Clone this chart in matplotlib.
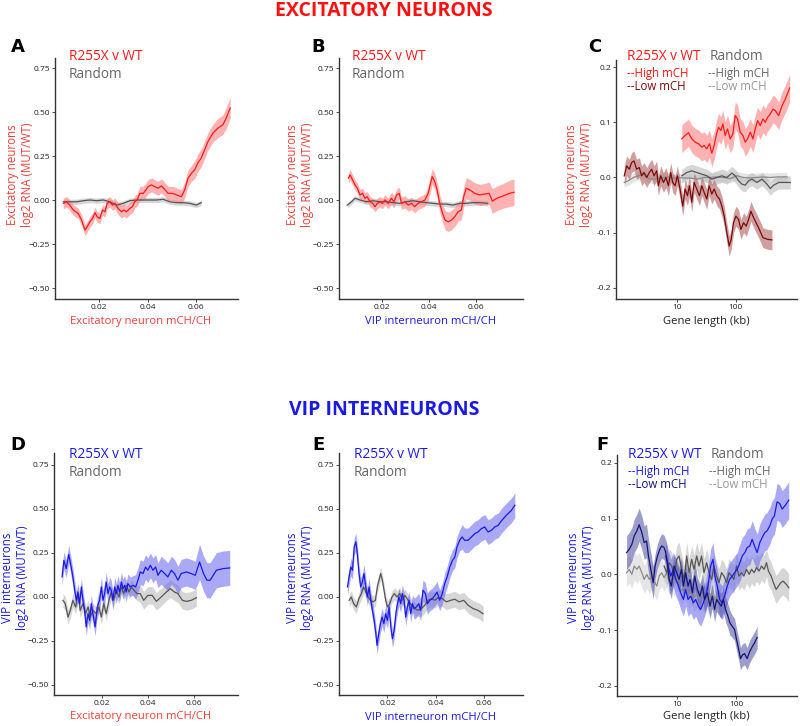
import matplotlib
matplotlib.use("Agg")
import matplotlib.pyplot as plt
import numpy as np

# ---------------- DATA ----------------
# Panel A: excitatory RNA vs excitatory mCH
A_red_x = [0.0054,0.0068,0.0081,0.0095,0.0115,0.0129,0.0143,0.0152,0.0163,0.0174,0.0184,0.0193,0.0204,0.0215,0.0225,0.0234,0.0245,0.0256,0.0266,0.0279,0.0293,0.0302,0.0313,0.0327,0.0338,0.0347,0.0357,0.0368,0.0382,0.0393,0.0402,0.0416,0.0429,0.0443,0.0457,0.0470,0.0484,0.0498,0.0511,0.0525,0.0539,0.0552,0.0566,0.0580,0.0593,0.0607,0.0620,0.0634,0.0648,0.0668,0.0689,0.0709,0.0723,0.0739]
A_red_y = [-0.019,-0.010,-0.030,-0.057,-0.076,-0.114,-0.171,-0.152,-0.124,-0.105,-0.072,-0.095,-0.105,-0.057,-0.067,-0.019,-0.010,-0.029,-0.019,-0.048,-0.067,-0.057,-0.067,-0.048,-0.038,-0.010,0.000,0.038,0.038,0.057,0.076,0.086,0.076,0.067,0.080,0.061,0.038,0.038,0.034,0.025,0.019,0.057,0.124,0.152,0.171,0.213,0.238,0.285,0.333,0.380,0.409,0.428,0.466,0.523]
A_red_se = [0.03,0.03,0.03,0.03,0.03,0.03,0.03,0.03,0.03,0.03,0.03,0.03,0.03,0.03,0.03,0.03,0.03,0.03,0.03,0.035,0.035,0.035,0.035,0.035,0.035,0.035,0.035,0.04,0.04,0.04,0.04,0.04,0.04,0.04,0.04,0.04,0.04,0.04,0.04,0.04,0.04,0.045,0.045,0.045,0.05,0.05,0.05,0.05,0.05,0.05,0.055,0.055,0.06,0.06]
A_gray_x = [0.0054,0.0081,0.0109,0.0136,0.0163,0.0190,0.0218,0.0245,0.0272,0.0300,0.0327,0.0354,0.0382,0.0409,0.0436,0.0464,0.0491,0.0518,0.0546,0.0573,0.0600,0.0620]
A_gray_y = [-0.010,-0.010,-0.010,-0.004,0.000,-0.004,0.000,-0.010,-0.029,-0.019,-0.004,0.000,0.000,0.000,0.000,0.004,-0.010,-0.015,-0.015,-0.019,-0.029,-0.015]
A_gray_se = [0.015]*22

# Panel B: excitatory RNA vs VIP mCH
B_red_x = [0.0059,0.0066,0.0077,0.0087,0.0097,0.0108,0.0119,0.0129,0.0139,0.0151,0.0162,0.0172,0.0182,0.0193,0.0204,0.0214,0.0228,0.0242,0.0252,0.0264,0.0275,0.0285,0.0299,0.0313,0.0327,0.0341,0.0355,0.0370,0.0384,0.0398,0.0408,0.0415,0.0426,0.0436,0.0447,0.0459,0.0470,0.0483,0.0497,0.0511,0.0525,0.0539,0.0549,0.0560,0.0575,0.0596,0.0617,0.0638,0.0657,0.0671,0.0690,0.0716,0.0744,0.0763]
B_red_y = [0.124,0.143,0.114,0.086,0.067,0.029,0.038,0.010,0.019,-0.010,-0.019,-0.038,-0.019,-0.010,-0.019,0.000,-0.019,0.010,-0.010,0.029,0.038,-0.019,-0.010,-0.029,-0.019,-0.038,-0.019,-0.010,0.000,0.038,0.095,0.133,0.105,0.057,-0.019,-0.076,-0.114,-0.124,-0.114,-0.095,-0.067,-0.057,0.019,0.067,0.057,0.038,0.029,0.034,0.038,-0.006,0.010,0.023,0.038,0.044]
B_red_se = [0.03,0.03,0.03,0.03,0.03,0.03,0.03,0.03,0.03,0.03,0.03,0.03,0.03,0.03,0.03,0.03,0.03,0.035,0.035,0.035,0.035,0.035,0.035,0.035,0.035,0.035,0.035,0.035,0.035,0.04,0.045,0.045,0.045,0.045,0.05,0.05,0.055,0.055,0.055,0.055,0.055,0.055,0.055,0.06,0.06,0.06,0.06,0.06,0.065,0.07,0.07,0.07,0.075,0.075]
B_gray_x = [0.0054,0.0072,0.0087,0.0108,0.0136,0.0164,0.0193,0.0221,0.0249,0.0277,0.0306,0.0334,0.0362,0.0390,0.0419,0.0447,0.0475,0.0503,0.0532,0.0560,0.0588,0.0616,0.0651]
B_gray_y = [-0.029,-0.010,0.010,0.000,-0.010,-0.004,-0.010,-0.010,-0.015,-0.019,-0.010,-0.004,-0.010,-0.015,-0.019,-0.023,-0.023,-0.029,-0.019,-0.019,-0.015,-0.015,-0.019]
B_gray_se = [0.015]*23

# Panel C: excitatory RNA vs gene length (kb), log10 of kb
C_high_logx = [1.085,1.141,1.198,1.254,1.311,1.367,1.424,1.463,1.508,1.554,1.593,1.633,1.667,1.706,1.746,1.780,1.819,1.859,1.904,1.949,1.989,2.028,2.073,2.119,2.158,2.198,2.243,2.288,2.328,2.367,2.412,2.458,2.497,2.537,2.582,2.627,2.667,2.723,2.780,2.836,2.910]
C_high_y = [0.070,0.076,0.081,0.070,0.064,0.061,0.055,0.058,0.052,0.061,0.044,0.058,0.076,0.091,0.085,0.097,0.076,0.088,0.070,0.079,0.112,0.106,0.082,0.076,0.064,0.070,0.082,0.070,0.088,0.103,0.094,0.106,0.100,0.109,0.115,0.124,0.121,0.112,0.130,0.142,0.162]
C_high_se = [0.025]*41
C_low_logx = [0.113,0.153,0.198,0.237,0.277,0.322,0.367,0.407,0.446,0.492,0.537,0.576,0.616,0.661,0.689,0.729,0.774,0.819,0.859,0.898,0.932,0.972,1.011,1.056,1.102,1.141,1.181,1.215,1.254,1.294,1.339,1.384,1.424,1.463,1.508,1.548,1.593,1.633,1.678,1.723,1.763,1.802,1.847,1.887,1.921,1.960,2.000,2.045,2.085,2.130,2.175,2.215,2.254,2.288,2.328,2.384,2.458,2.537,2.610]
C_low_y = [0.003,0.021,0.015,0.027,0.030,0.015,0.018,0.003,0.009,0.000,0.009,0.015,0.003,0.012,-0.015,0.003,-0.009,0.000,-0.015,0.009,-0.009,-0.015,0.003,-0.021,-0.052,-0.021,-0.033,-0.015,-0.045,-0.009,-0.021,-0.033,-0.015,-0.027,-0.039,-0.015,-0.030,-0.021,-0.033,-0.039,-0.052,-0.070,-0.100,-0.124,-0.112,-0.082,-0.070,-0.076,-0.094,-0.082,-0.088,-0.076,-0.061,-0.070,-0.079,-0.091,-0.109,-0.112,-0.113]
C_low_se = [0.018]*59
C_rhigh_logx = [1.085,1.169,1.254,1.339,1.424,1.508,1.593,1.678,1.763,1.847,1.932,1.989,2.045,2.102,2.158,2.215,2.271,2.356,2.441,2.525,2.582,2.638,2.723,2.808,2.921]
C_rhigh_y = [0.003,0.009,0.012,0.009,0.006,0.003,-0.003,0.000,0.003,0.000,0.008,0.003,-0.006,-0.012,-0.014,-0.006,-0.003,-0.009,-0.003,-0.012,-0.020,-0.014,-0.009,-0.009,-0.009]
C_rhigh_se = [0.012]*25
C_rlow_logx = [0.113,0.181,0.266,0.350,0.435,0.520,0.605,0.689,0.774,0.859,0.944,1.028,1.113,1.226,1.339,1.452,1.565,1.678,1.791,1.904,2.017,2.130,2.243,2.356,2.469,2.582,2.695,2.864]
C_rlow_y = [-0.009,-0.006,0.000,0.003,0.006,-0.002,-0.003,-0.002,0.000,0.001,-0.002,0.000,-0.001,-0.001,-0.003,0.000,0.000,0.001,0.000,-0.002,0.003,0.000,-0.001,0.000,0.001,0.000,0.001,0.001]
C_rlow_se = [0.008]*28

# Panel D: VIP RNA vs excitatory mCH
D_blue_x = [0.0028,0.0036,0.0046,0.0057,0.0065,0.0075,0.0083,0.0090,0.0097,0.0104,0.0112,0.0119,0.0126,0.0133,0.0141,0.0148,0.0155,0.0162,0.0172,0.0181,0.0191,0.0199,0.0206,0.0213,0.0220,0.0228,0.0235,0.0242,0.0249,0.0257,0.0264,0.0271,0.0278,0.0286,0.0293,0.0300,0.0307,0.0314,0.0325,0.0336,0.0348,0.0358,0.0368,0.0380,0.0391,0.0401,0.0412,0.0423,0.0435,0.0445,0.0459,0.0474,0.0488,0.0503,0.0517,0.0532,0.0546,0.0568,0.0590,0.0607,0.0626,0.0643,0.0658,0.0672,0.0699,0.0728,0.0757]
D_blue_y = [0.114,0.208,0.161,0.242,0.189,0.114,0.038,-0.019,0.028,-0.038,0.057,-0.019,-0.076,-0.170,-0.095,-0.133,-0.038,-0.095,-0.170,-0.057,-0.019,0.057,-0.019,0.019,0.085,0.019,0.057,0.038,-0.019,0.057,0.019,0.066,0.028,0.085,0.047,0.066,0.028,0.076,0.057,0.066,0.057,0.095,0.142,0.133,0.170,0.152,0.180,0.152,0.170,0.123,0.152,0.133,0.114,0.152,0.133,0.095,0.133,0.142,0.133,0.123,0.199,0.133,0.095,0.095,0.152,0.161,0.165]
D_blue_se = [0.05]*20 + [0.055]*20 + [0.07]*10 + [0.08]*10 + [0.1]*7
D_gray_x = [0.0032,0.0042,0.0054,0.0064,0.0075,0.0087,0.0097,0.0107,0.0119,0.0130,0.0141,0.0151,0.0162,0.0177,0.0188,0.0199,0.0209,0.0220,0.0232,0.0242,0.0252,0.0264,0.0275,0.0286,0.0296,0.0307,0.0319,0.0329,0.0341,0.0354,0.0368,0.0383,0.0401,0.0420,0.0438,0.0459,0.0481,0.0499,0.0517,0.0532,0.0551,0.0568,0.0590,0.0612]
D_gray_y = [-0.019,-0.038,-0.114,-0.076,-0.019,-0.057,0.019,-0.076,-0.038,-0.095,-0.057,-0.114,-0.076,-0.095,-0.057,-0.114,-0.038,-0.095,-0.019,0.028,-0.019,0.038,0.000,0.057,0.019,0.066,0.028,0.057,0.038,0.019,0.019,-0.019,0.009,0.009,-0.025,0.000,0.028,0.047,0.028,0.019,-0.019,-0.025,-0.019,-0.004]
D_gray_se = [0.04]*30 + [0.05]*14

# Panel E: VIP RNA vs VIP mCH
E_blue_x = [0.0034,0.0041,0.0048,0.0055,0.0062,0.0069,0.0075,0.0082,0.0089,0.0096,0.0103,0.0110,0.0117,0.0124,0.0131,0.0138,0.0145,0.0152,0.0157,0.0164,0.0171,0.0178,0.0185,0.0193,0.0200,0.0207,0.0214,0.0221,0.0228,0.0235,0.0242,0.0248,0.0255,0.0262,0.0269,0.0276,0.0283,0.0290,0.0297,0.0304,0.0311,0.0320,0.0330,0.0338,0.0348,0.0358,0.0366,0.0376,0.0387,0.0397,0.0406,0.0417,0.0428,0.0438,0.0448,0.0459,0.0470,0.0480,0.0489,0.0500,0.0510,0.0521,0.0535,0.0549,0.0563,0.0576,0.0590,0.0604,0.0618,0.0632,0.0646,0.0660,0.0673,0.0694,0.0715,0.0729]
E_blue_y = [0.057,0.114,0.170,0.152,0.284,0.313,0.246,0.133,0.057,0.085,0.133,0.057,0.000,0.057,-0.019,-0.076,-0.133,-0.208,-0.275,-0.208,-0.152,-0.114,-0.152,-0.095,-0.133,-0.057,-0.170,-0.237,-0.189,-0.095,-0.038,0.000,-0.038,0.019,-0.019,-0.114,-0.057,-0.019,-0.095,-0.038,-0.066,-0.057,-0.038,-0.076,0.038,0.019,-0.038,-0.019,-0.009,0.009,0.028,-0.019,0.019,0.076,0.114,0.170,0.208,0.227,0.284,0.322,0.341,0.322,0.322,0.341,0.360,0.369,0.388,0.398,0.369,0.379,0.398,0.407,0.432,0.464,0.492,0.521]
E_blue_se = [0.05]*40 + [0.06]*20 + [0.07]*16
E_gray_x = [0.0041,0.0050,0.0060,0.0071,0.0082,0.0092,0.0102,0.0110,0.0120,0.0129,0.0140,0.0150,0.0158,0.0165,0.0172,0.0179,0.0186,0.0193,0.0200,0.0210,0.0219,0.0229,0.0240,0.0251,0.0262,0.0273,0.0286,0.0300,0.0313,0.0327,0.0341,0.0355,0.0369,0.0383,0.0397,0.0410,0.0428,0.0445,0.0462,0.0480,0.0498,0.0517,0.0535,0.0556,0.0576,0.0597]
E_gray_y = [-0.019,0.000,-0.038,-0.057,-0.009,0.019,0.057,0.028,0.000,-0.019,-0.028,-0.019,0.057,0.095,0.133,0.095,0.038,-0.019,-0.057,-0.038,0.000,0.019,0.000,0.019,-0.019,0.009,-0.019,-0.047,-0.066,-0.076,-0.066,-0.047,-0.019,-0.009,-0.019,-0.004,-0.009,-0.028,-0.019,-0.013,-0.028,-0.019,-0.047,-0.066,-0.076,-0.095]
E_gray_se = [0.035]*30 + [0.045]*16

# Panel F: VIP RNA vs gene length (kb), log10 of kb
F_low_logx = [0.136,0.181,0.226,0.266,0.311,0.350,0.395,0.435,0.475,0.508,0.548,0.588,0.621,0.661,0.701,0.734,0.774,0.802,0.831,0.859,0.898,0.944,0.989,1.028,1.068,1.102,1.141,1.181,1.215,1.254,1.294,1.339,1.384,1.424,1.463,1.508,1.554,1.593,1.633,1.667,1.706,1.746,1.780,1.819,1.859,1.893,1.932,1.972,2.006,2.045,2.073,2.102,2.141,2.186,2.226,2.271,2.311,2.356]
F_low_y = [0.039,0.045,0.054,0.069,0.078,0.089,0.075,0.057,0.060,0.033,0.009,-0.015,0.015,0.033,0.045,0.051,0.048,0.039,0.021,-0.009,-0.021,0.015,0.003,-0.009,0.009,-0.021,0.003,-0.021,-0.009,-0.033,-0.003,-0.027,-0.039,-0.021,-0.045,-0.033,-0.057,-0.039,-0.063,-0.045,-0.051,-0.057,-0.045,-0.063,-0.075,-0.087,-0.093,-0.099,-0.117,-0.136,-0.151,-0.145,-0.142,-0.151,-0.139,-0.130,-0.123,-0.113]
F_low_se = [0.03]*12 + [0.022]*34 + [0.02]*12
F_high_logx = [0.802,0.842,0.887,0.932,0.972,1.011,1.056,1.102,1.141,1.181,1.226,1.271,1.311,1.356,1.395,1.441,1.480,1.520,1.565,1.605,1.638,1.678,1.718,1.763,1.802,1.847,1.887,1.932,1.972,2.017,2.062,2.102,2.147,2.186,2.232,2.271,2.311,2.356,2.401,2.441,2.486,2.525,2.571,2.610,2.650,2.695,2.740,2.780,2.836,2.893]
F_high_y = [0.033,0.015,-0.003,0.009,-0.009,-0.018,-0.033,-0.045,-0.027,-0.045,-0.039,-0.051,-0.045,-0.057,-0.063,-0.051,-0.039,-0.021,0.015,0.027,-0.003,-0.021,-0.045,-0.051,-0.039,-0.021,-0.009,-0.003,0.003,0.009,0.021,0.033,0.039,0.048,0.051,0.063,0.051,0.039,0.057,0.066,0.075,0.078,0.087,0.099,0.105,0.130,0.127,0.117,0.124,0.133]
F_high_se = [0.03]*30 + [0.033]*20
F_rlow_logx = [0.136,0.181,0.226,0.266,0.311,0.350,0.395,0.435,0.480,0.520,0.565,0.605,0.650,0.689,0.734,0.774,0.819,0.859,0.904,0.944,0.989,1.028,1.073,1.113,1.158,1.198,1.243,1.282,1.328,1.367,1.412,1.452,1.497,1.537,1.582,1.621,1.667,1.706,1.751]
F_rlow_y = [0.003,0.009,0.000,0.015,0.009,0.015,0.003,-0.009,0.000,-0.009,-0.003,-0.012,-0.021,-0.003,0.003,-0.006,0.003,-0.012,-0.003,-0.015,-0.003,-0.021,-0.030,-0.021,-0.025,-0.038,-0.030,-0.042,-0.035,-0.042,-0.036,-0.045,-0.038,-0.048,-0.033,-0.045,-0.040,-0.048,-0.042]
F_rlow_se = [0.025]*39
F_rhigh_logx = [0.774,0.819,0.859,0.904,0.944,0.989,1.028,1.073,1.113,1.158,1.198,1.243,1.282,1.328,1.367,1.412,1.452,1.497,1.537,1.582,1.621,1.667,1.706,1.751,1.791,1.836,1.876,1.921,1.960,2.006,2.045,2.090,2.130,2.175,2.220,2.260,2.305,2.345,2.390,2.429,2.475,2.514,2.548,2.593,2.633,2.678,2.718,2.757,2.797,2.853,2.893]
F_rhigh_y = [0.015,0.003,0.021,0.015,-0.003,0.027,0.033,0.009,-0.009,0.033,0.003,0.027,0.009,0.033,0.015,0.033,0.003,0.021,0.003,-0.009,0.015,-0.003,-0.015,0.003,-0.003,-0.015,0.003,-0.003,-0.009,0.015,-0.003,0.003,-0.003,0.009,0.000,0.009,0.003,0.012,0.006,0.015,0.009,0.021,0.006,-0.003,-0.015,-0.027,-0.021,-0.015,-0.012,-0.018,-0.024]
F_rhigh_se = [0.025]*51

Y_TICKS_A = [-0.50, -0.25, 0.00, 0.25, 0.50, 0.75]
Y_TICKS_C = [-0.2, -0.1, 0.0, 0.1, 0.2]
X_TICKS_MCH = [0.02, 0.04, 0.06]
X_TICKS_LEN = [10, 100]

# ---------------- STYLE ----------------
RED = "#ff1a1a"
RED_FILL = "#ff8080"
DRED = "#7a0a0a"
DRED_FILL = "#b06060"
BLUE = "#1a1ae6"
BLUE_FILL = "#7070f0"
NAVY = "#14147a"
NAVY_FILL = "#5c5ca8"
GRAY = "#555555"
GRAY_FILL = "#bbbbbb"
LGRAY = "#8a8a8a"
LGRAY_FILL = "#d5d5d5"
RED_LAB = "#e8413c"
FONT = "Open Sans"

plt.rcParams['font.family'] = [FONT, 'DejaVu Sans']

fig = plt.figure(figsize=(8.0, 7.26), dpi=100)
W, H = 800.0, 726.0

def make_ax(l, r, t, b):
    ax = fig.add_axes([l / W, 1 - b / H, (r - l) / W, (b - t) / H])
    for s in ("top", "right"):
        ax.spines[s].set_visible(False)
    for s in ("left", "bottom"):
        ax.spines[s].set_color("#333333")
        ax.spines[s].set_linewidth(1.0)
    ax.tick_params(axis="both", labelsize=6, length=2, width=0.6, color="#333333",
                   labelcolor="#222222", pad=1.5)
    ax.set_facecolor("white")
    return ax

def band(ax, x, y, se, lc, fc, alpha=0.6, lw=0.9):
    x = np.asarray(x); y = np.asarray(y); se = np.asarray(se)
    ax.fill_between(x, y - se, y + se, color=fc, alpha=alpha, lw=0)
    ax.plot(x, y, color=lc, lw=lw)

def mch_axes(ax, xlim):
    ax.set_xlim(*xlim)
    ax.set_ylim(-0.5625, 0.807)
    ax.set_xticks(X_TICKS_MCH)
    ax.set_xticklabels(["%.2f" % v for v in X_TICKS_MCH])
    ax.set_yticks(Y_TICKS_A)
    ax.set_yticklabels(["%.2f" % v if v >= 0 else "\u2212%.2f" % -v for v in Y_TICKS_A])

def len_axes(ax, ylim):
    ax.set_xscale("log")
    ax.set_xlim(0.94, 1080)
    ax.set_ylim(*ylim)
    ax.set_xticks(X_TICKS_LEN)
    ax.set_xticklabels([str(v) for v in X_TICKS_LEN])
    ax.minorticks_off()
    ax.set_yticks(Y_TICKS_C)
    ax.set_yticklabels(["%.1f" % v if v >= 0 else "-%.1f" % -v for v in Y_TICKS_C])

def ptext(x, y, s, **kw):
    fig.text(x / W, 1 - y / H, s, **kw)

def letter(x, y, s):
    ptext(x, y, s, fontsize=13, fontweight="bold", ha="center", va="center", color="black",
          family=["DejaVu Sans"])

ylab_exc = "Excitatory neurons\nlog2 RNA (MUT/WT)"
ylab_vip = "VIP interneurons\nlog2 RNA (MUT/WT)"

# ---- Panel A ----
axA = make_ax(55, 238, 58, 299)
band(axA, A_gray_x, A_gray_y, A_gray_se, GRAY, GRAY_FILL)
band(axA, A_red_x, A_red_y, A_red_se, RED, RED_FILL)
mch_axes(axA, (0.002, 0.0771))
# ---- Panel B ----
axB = make_ax(339, 523, 58, 299)
band(axB, B_gray_x, B_gray_y, B_gray_se, GRAY, GRAY_FILL)
band(axB, B_red_x, B_red_y, B_red_se, RED, RED_FILL)
mch_axes(axB, (0.0019, 0.0801))
# ---- Panel C ----
axC = make_ax(616, 797, 60, 299)
band(axC, 10 ** np.array(C_rlow_logx), C_rlow_y, C_rlow_se, LGRAY, LGRAY_FILL)
band(axC, 10 ** np.array(C_rhigh_logx), C_rhigh_y, C_rhigh_se, GRAY, GRAY_FILL)
band(axC, 10 ** np.array(C_low_logx), C_low_y, C_low_se, DRED, DRED_FILL)
band(axC, 10 ** np.array(C_high_logx), C_high_y, C_high_se, RED, RED_FILL)
len_axes(axC, (-0.22, 0.2127))
# ---- Panel D ----
axD = make_ax(54, 238, 453, 695)
band(axD, D_gray_x, D_gray_y, D_gray_se, GRAY, GRAY_FILL)
band(axD, D_blue_x, D_blue_y, D_blue_se, BLUE, BLUE_FILL)
mch_axes(axD, (-0.0007, 0.0793))
axD.set_ylim(-0.557, 0.818)
# ---- Panel E ----
axE = make_ax(339, 523, 453, 695)
band(axE, E_gray_x, E_gray_y, E_gray_se, GRAY, GRAY_FILL)
band(axE, E_blue_x, E_blue_y, E_blue_se, BLUE, BLUE_FILL)
mch_axes(axE, (-0.0001, 0.0763))
axE.set_ylim(-0.557, 0.818)
# ---- Panel F ----
axF = make_ax(617, 797, 455, 696)
band(axF, 10 ** np.array(F_rlow_logx), F_rlow_y, F_rlow_se, LGRAY, LGRAY_FILL)
band(axF, 10 ** np.array(F_rhigh_logx), F_rhigh_y, F_rhigh_se, GRAY, GRAY_FILL)
band(axF, 10 ** np.array(F_high_logx), F_high_y, F_high_se, BLUE, BLUE_FILL)
band(axF, 10 ** np.array(F_low_logx), F_low_y, F_low_se, NAVY, NAVY_FILL)
len_axes(axF, (-0.218, 0.214))

# ---- titles ----
ptext(384, 11, "EXCITATORY NEURONS", fontsize=14, fontweight="bold", color="#ff1010",
      ha="center", va="center")
ptext(384, 410, "VIP INTERNEURONS", fontsize=14, fontweight="bold", color="#1a1ae6",
      ha="center", va="center")

# ---- letters ----
for (x, y, s) in [(18, 47, "A"), (318, 47, "B"), (595, 47, "C"),
                  (18, 445, "D"), (318, 445, "E"), (602, 445, "F")]:
    letter(x, y, s)

# ---- y labels ----
for (x, y, s, c) in [(20, 175, ylab_exc, RED_LAB), (300, 175, ylab_exc, RED_LAB),
                     (579, 175, ylab_exc, RED_LAB),
                     (15, 578, ylab_vip, BLUE), (300, 578, ylab_vip, BLUE),
                     (581, 578, ylab_vip, BLUE)]:
    ptext(x, y, s, fontsize=8.3, color=c, rotation=90, ha="center", va="center",
          linespacing=1.25)

# ---- x labels ----
for (x, y, s, c) in [(141, 322, "Excitatory neuron mCH/CH", RED_LAB),
                     (431, 322, "VIP interneuron mCH/CH", BLUE),
                     (706, 322, "Gene length (kb)", "#222222"),
                     (141, 717, "Excitatory neuron mCH/CH", RED_LAB),
                     (431, 717, "VIP interneuron mCH/CH", BLUE),
                     (706, 717, "Gene length (kb)", "#222222")]:
    ptext(x, y, s, fontsize=8.1, color=c, ha="center", va="center")

# ---- in-plot legends ----
LEG_FS = 9.8

def leg2(x, y, c):
    ptext(x, y, "R255X v WT", fontsize=LEG_FS, color=c, ha="left", va="center")
    ptext(x, y + 18, "Random", fontsize=LEG_FS, color="#666666", ha="left", va="center")

leg2(69, 57, RED)
leg2(352, 57, RED)
leg2(69, 455, BLUE)
leg2(354, 455, BLUE)

def leg4(x, y, c, cd):
    ptext(x, y, "R255X v WT", fontsize=LEG_FS, color=c, ha="left", va="center")
    ptext(x + 83, y, "Random", fontsize=LEG_FS, color="#666666", ha="left", va="center")
    ptext(x, y + 16, "--High mCH", fontsize=8.3, color=c, ha="left", va="center")
    ptext(x, y + 30, "--Low mCH", fontsize=8.3, color=cd, ha="left", va="center")
    ptext(x + 81, y + 16, "--High mCH", fontsize=8.3, color="#666666", ha="left", va="center")
    ptext(x + 81, y + 30, "--Low mCH", fontsize=8.3, color="#999999", ha="left", va="center")

leg4(627, 57, RED, DRED)
leg4(628, 455, BLUE, NAVY)

fig.savefig("out.png", dpi=100, facecolor="white")
